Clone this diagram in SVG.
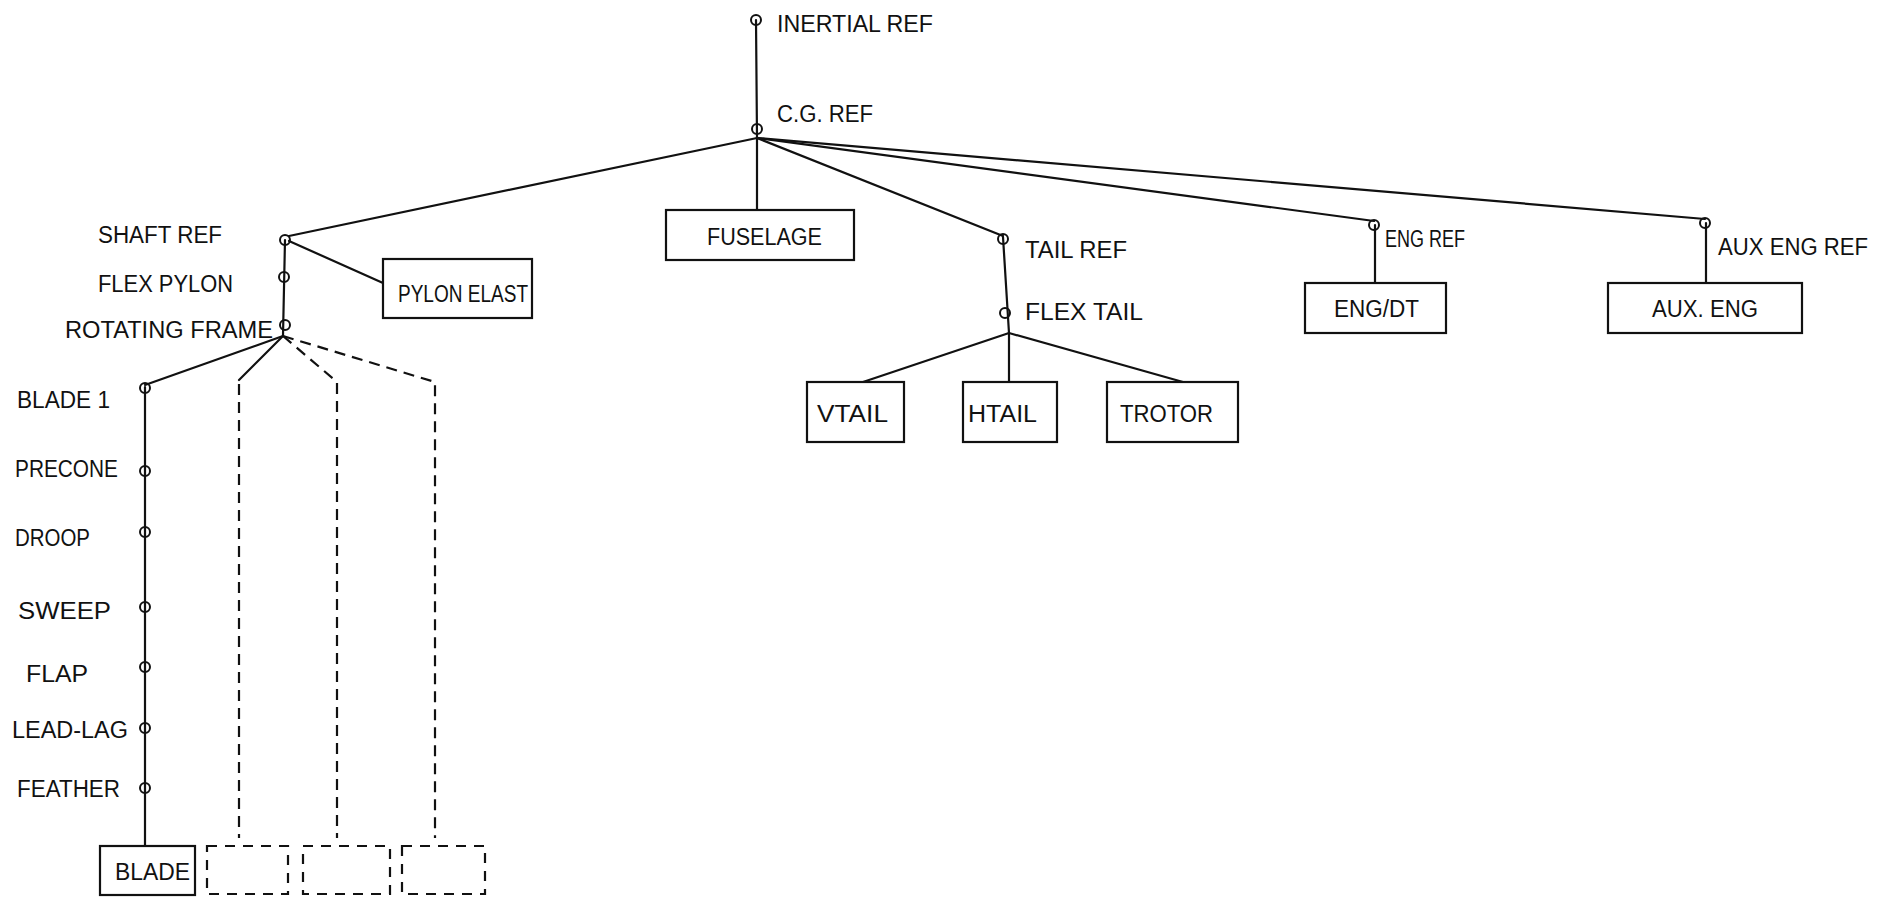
<svg xmlns="http://www.w3.org/2000/svg" width="1883" height="897" viewBox="0 0 1883 897">
<style>
text{font-family:"Liberation Sans",Arial,sans-serif;font-size:23px;fill:#111}
.ln{stroke:#111;stroke-width:2.2;fill:none;stroke-linecap:round}
.dash{stroke:#111;stroke-width:2.2;fill:none;stroke-dasharray:11 7}
.box{stroke:#111;stroke-width:2.2;fill:#fff}
.dbox{stroke:#111;stroke-width:2.2;fill:#fff;stroke-dasharray:10 8}
.jt{stroke:#111;stroke-width:2;fill:none}
</style>
<rect width="1883" height="897" fill="#fff"/>
<g id="connectors">
<line class="ln" x1="756" y1="20" x2="757" y2="138"/>
<line class="ln" x1="757" y1="138" x2="289" y2="236"/>
<line class="ln" x1="757" y1="138" x2="757" y2="210"/>
<line class="ln" x1="757" y1="138" x2="1003" y2="236"/>
<line class="ln" x1="757" y1="138" x2="1374" y2="221"/>
<line class="ln" x1="757" y1="138" x2="1705" y2="219"/>
<line class="ln" x1="285" y1="240" x2="283" y2="336"/>
<line class="ln" x1="289" y1="241" x2="383" y2="283"/>
<line class="ln" x1="283" y1="336" x2="145" y2="385"/>
<line class="ln" x1="283" y1="336" x2="239" y2="380"/>
<polyline class="dash" points="283,336 337,382 337,838"/>
<polyline class="dash" points="283,336 435,382 435,838"/>
<line class="dash" x1="239" y1="384" x2="239" y2="838"/>
<line class="ln" x1="145" y1="387" x2="145" y2="846"/>
<line class="ln" x1="1003" y1="237" x2="1009" y2="333"/>
<line class="ln" x1="1009" y1="333" x2="863" y2="382"/>
<line class="ln" x1="1009" y1="333" x2="1009" y2="382"/>
<line class="ln" x1="1009" y1="333" x2="1183" y2="382"/>
<line class="ln" x1="1375" y1="225" x2="1375" y2="283"/>
<line class="ln" x1="1706" y1="223" x2="1706" y2="283"/>
</g>
<g id="inertial-ref"><circle class="jt" cx="756" cy="20" r="5"/><text x="777" y="32" font-size="24" textLength="156" lengthAdjust="spacingAndGlyphs">INERTIAL REF</text></g>
<g id="cg-ref"><circle class="jt" cx="757" cy="129" r="5"/><text x="777" y="122" textLength="96" lengthAdjust="spacingAndGlyphs">C.G. REF</text></g>
<g id="shaft-ref"><circle class="jt" cx="285" cy="240" r="5"/><text x="98" y="243" textLength="124" lengthAdjust="spacingAndGlyphs">SHAFT REF</text></g>
<g id="flex-pylon"><circle class="jt" cx="284" cy="277" r="5"/><text x="98" y="292" textLength="135" lengthAdjust="spacingAndGlyphs">FLEX PYLON</text></g>
<g id="rotating-frame"><circle class="jt" cx="285" cy="325" r="5"/><text x="65" y="338" textLength="208" lengthAdjust="spacingAndGlyphs">ROTATING FRAME</text></g>
<g id="pylon-elast"><rect class="box" x="383" y="259" width="149" height="59"/><text x="398" y="302" font-size="24" textLength="130" lengthAdjust="spacingAndGlyphs">PYLON ELAST</text></g>
<g id="blade1"><circle class="jt" cx="145" cy="388" r="5"/><text x="17" y="408" textLength="93" lengthAdjust="spacingAndGlyphs">BLADE 1</text></g>
<g id="precone"><circle class="jt" cx="145" cy="471" r="5"/><text x="15" y="477" textLength="103" lengthAdjust="spacingAndGlyphs">PRECONE</text></g>
<g id="droop"><circle class="jt" cx="145" cy="532" r="5"/><text x="15" y="546" textLength="75" lengthAdjust="spacingAndGlyphs">DROOP</text></g>
<g id="sweep"><circle class="jt" cx="145" cy="607" r="5"/><text x="18" y="619" textLength="93" lengthAdjust="spacingAndGlyphs">SWEEP</text></g>
<g id="flap"><circle class="jt" cx="145" cy="667" r="5"/><text x="26" y="682" textLength="62" lengthAdjust="spacingAndGlyphs">FLAP</text></g>
<g id="lead-lag"><circle class="jt" cx="145" cy="728" r="5"/><text x="12" y="738" textLength="116" lengthAdjust="spacingAndGlyphs">LEAD-LAG</text></g>
<g id="feather"><circle class="jt" cx="145" cy="788" r="5"/><text x="17" y="797" textLength="103" lengthAdjust="spacingAndGlyphs">FEATHER</text></g>
<g id="blade-box"><rect class="box" x="100" y="846" width="95" height="49"/><text x="115" y="880" font-size="24" textLength="75" lengthAdjust="spacingAndGlyphs">BLADE</text></g>
<g id="blade2-box"><rect class="dbox" x="207" y="846" width="81" height="48"/></g>
<g id="blade3-box"><rect class="dbox" x="303" y="846" width="87" height="48"/></g>
<g id="blade4-box"><rect class="dbox" x="402" y="846" width="83" height="48"/></g>
<g id="fuselage"><rect class="box" x="666" y="210" width="188" height="50"/><text x="707" y="245" textLength="115" lengthAdjust="spacingAndGlyphs">FUSELAGE</text></g>
<g id="tail-ref"><circle class="jt" cx="1003" cy="239" r="5"/><text x="1025" y="258" textLength="102" lengthAdjust="spacingAndGlyphs">TAIL REF</text></g>
<g id="flex-tail"><circle class="jt" cx="1005" cy="313" r="5"/><text x="1025" y="320" textLength="118" lengthAdjust="spacingAndGlyphs">FLEX TAIL</text></g>
<g id="vtail"><rect class="box" x="807" y="382" width="97" height="60"/><text x="817" y="422" font-size="25" textLength="71" lengthAdjust="spacingAndGlyphs">VTAIL</text></g>
<g id="htail"><rect class="box" x="963" y="382" width="94" height="60"/><text x="968" y="422" font-size="25" textLength="69" lengthAdjust="spacingAndGlyphs">HTAIL</text></g>
<g id="trotor"><rect class="box" x="1107" y="382" width="131" height="60"/><text x="1120" y="422" font-size="24" textLength="93" lengthAdjust="spacingAndGlyphs">TROTOR</text></g>
<g id="eng-ref"><circle class="jt" cx="1374" cy="225" r="5"/><text x="1385" y="247" font-size="22" textLength="80" lengthAdjust="spacingAndGlyphs">ENG REF</text></g>
<g id="eng-dt"><rect class="box" x="1305" y="283" width="141" height="50"/><text x="1334" y="317" textLength="85" lengthAdjust="spacingAndGlyphs">ENG/DT</text></g>
<g id="aux-eng-ref"><circle class="jt" cx="1705" cy="223" r="5"/><text x="1718" y="255" textLength="150" lengthAdjust="spacingAndGlyphs">AUX ENG REF</text></g>
<g id="aux-eng"><rect class="box" x="1608" y="283" width="194" height="50"/><text x="1652" y="317" textLength="106" lengthAdjust="spacingAndGlyphs">AUX. ENG</text></g>
</svg>
